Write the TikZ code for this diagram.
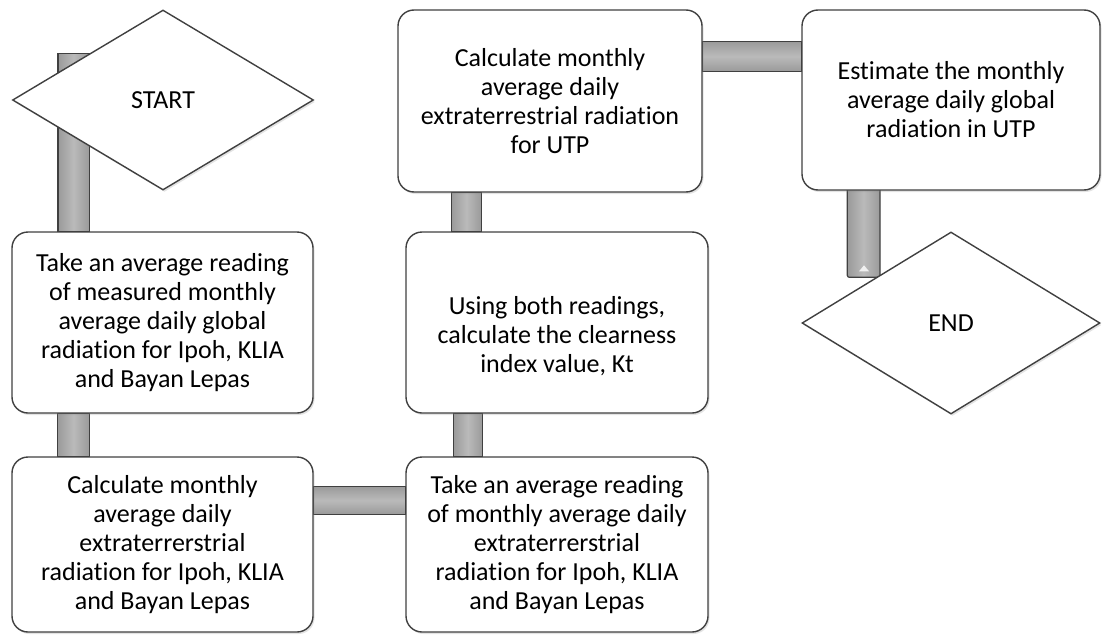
\documentclass[tikz,border=0pt]{standalone}
\usepackage{fontspec}
\setmainfont{Carlito}[Ligatures={NoCommon}]
\usetikzlibrary{shapes.geometric,shadows,calc}
\pgfdeclarelayer{bg}
\pgfsetlayers{bg,main}
\definecolor{bardark}{HTML}{9A9A9A}
\definecolor{barlight}{HTML}{BABABA}
\definecolor{edgegray}{HTML}{404040}
\begin{document}
\begin{tikzpicture}[x=1pt,y=-1pt,
  base/.style={draw=edgegray, line width=1.4pt, fill=white, inner sep=0pt,
    align=center, font=\fontsize{26}{29}\selectfont,
    drop shadow={shadow xshift=1.5pt,shadow yshift=-2pt,opacity=0.22}},
  flowbox/.style={base, rectangle, rounded corners=16pt},
  decision/.style={base, diamond},
  vbar/.style={draw=edgegray, line width=1.2pt, left color=bardark, right color=bardark, middle color=barlight},
  hbar/.style={draw=edgegray, line width=1.2pt, top color=bardark, bottom color=bardark, middle color=barlight}
]
\useasboundingbox (0,0) rectangle (1102,634);

\node[decision, minimum width=301pt, minimum height=180pt] (start) at (163,100) {START};
\node[flowbox, minimum width=301pt, minimum height=181pt] (b1) at (162.5,322.5)
  {Take an average reading\\of measured monthly\\average daily global\\radiation for Ipoh, KLIA\\and Bayan Lepas};
\node[flowbox, minimum width=301pt, minimum height=175pt] (b2) at (162.5,544.5)
  {Calculate monthly\\average daily\\extraterrerstrial\\radiation for Ipoh, KLIA\\and Bayan Lepas};
\node[flowbox, minimum width=302pt, minimum height=175pt] (b4) at (557,544.5)
  {Take an average reading\\of monthly average daily\\extraterrerstrial\\radiation for Ipoh, KLIA\\and Bayan Lepas};
\node[flowbox, minimum width=302pt, minimum height=181pt] (b3) at (557,322.5) {};
\node[align=center, font=\fontsize{26}{29}\selectfont] (b3text) at ($(b3.center)+(0,14)$)
  {Using both readings,\\calculate the clearness\\index value, Kt};
\node[flowbox, minimum width=304pt, minimum height=182pt] (b5) at (550,101)
  {Calculate monthly\\average daily\\extraterrestrial radiation\\for UTP};
\node[flowbox, minimum width=298pt, minimum height=180pt] (b6) at (951,100)
  {Estimate the monthly\\average daily global\\radiation in UTP};
\node[decision, minimum width=298pt, minimum height=182pt] (end) at (951,323) {END};

\begin{pgfonlayer}{bg}
  \path[vbar] ($(start.north)+(-105,44)$) rectangle ($(b1.north west)+(78,0)$);
  \path[vbar] ($(b1.south west)+(46,0)$) rectangle ($(b2.north west)+(78,0)$);
  \path[hbar] ($(b2.north east)+(0,30)$) rectangle ($(b4.north west)+(0,58)$);
  \path[vbar] ($(b3.south west)+(48,0)$) rectangle ($(b4.north west)+(77,0)$);
  \path[vbar] ($(b5.south west)+(54,0)$) rectangle ($(b3.north west)+(76,0)$);
  \path[hbar] ($(b5.north east)+(0,32)$) rectangle ($(b6.north west)+(0,62)$);
  \path[vbar, rounded corners=2pt] ($(b6.south west)+(46,-3)$) rectangle ($(end.north)+(-71,46)$);
  \fill[white!88!gray] ($(end.north)+(-92,40)$) -- ($(end.north)+(-87,34)$) -- ($(end.north)+(-82,40)$) -- cycle;
\end{pgfonlayer}
\end{tikzpicture}
\end{document}
